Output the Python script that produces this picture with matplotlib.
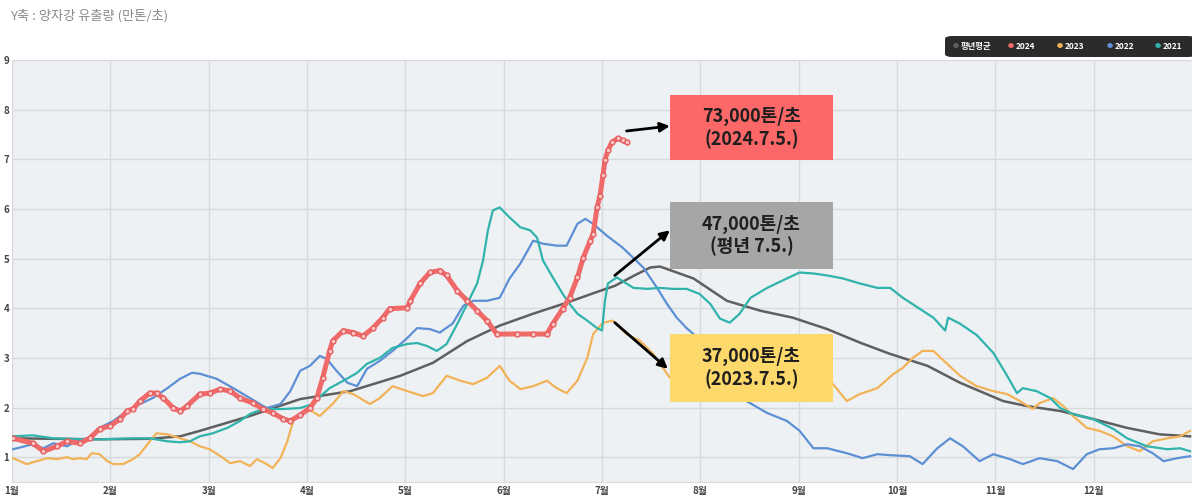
import numpy as np
import matplotlib
matplotlib.use("Agg")
import matplotlib.pyplot as plt
from matplotlib.patches import Rectangle, FancyBboxPatch

plt.rcParams['font.family'] = ['Noto Sans CJK KR', 'DejaVu Sans']

# x positions are in months since 1 Jan (0 = 1월 1일, 12 = year end)
month_labels = ["1월", "2월", "3월", "4월", "5월", "6월", "7월", "8월", "9월", "10월", "11월", "12월"]

avg_x = [0.00, 0.89, 1.40, 1.71, 1.91, 2.42, 2.93, 3.44, 3.95, 4.28, 4.63, 4.96, 5.30, 5.64, 5.98, 6.13,
         6.32, 6.49, 6.59, 6.93, 7.27, 7.61, 7.94, 8.29, 8.62, 8.93, 9.31, 9.64, 10.08, 10.32, 10.66, 10.99,
         11.34, 11.67, 11.98]
avg_y = [1.38, 1.36, 1.37, 1.42, 1.53, 1.83, 2.17, 2.33, 2.64, 2.90, 3.34, 3.65, 3.89, 4.11, 4.35, 4.45,
         4.65, 4.82, 4.84, 4.60, 4.15, 3.95, 3.81, 3.58, 3.31, 3.08, 2.84, 2.50, 2.13, 2.03, 1.93, 1.77,
         1.59, 1.46, 1.42]

y2024_x = [0.01, 0.21, 0.32, 0.46, 0.56, 0.69, 0.79, 0.89, 1.00, 1.10, 1.17, 1.23, 1.30, 1.40, 1.47, 1.54,
           1.64, 1.71, 1.78, 1.91, 2.01, 2.12, 2.22, 2.32, 2.45, 2.55, 2.65, 2.76, 2.83, 2.93, 3.03, 3.10,
           3.16, 3.23, 3.26, 3.37, 3.47, 3.57, 3.67, 3.77, 3.84, 4.02, 4.05, 4.15, 4.25, 4.35, 4.42, 4.53,
           4.63, 4.73, 4.83, 4.93, 5.14, 5.30, 5.44, 5.50, 5.60, 5.67, 5.75, 5.81, 5.88, 5.91, 5.95, 5.98,
           6.01, 6.03, 6.06, 6.10, 6.16, 6.21, 6.25]
y2024_y = [1.38, 1.28, 1.12, 1.22, 1.32, 1.28, 1.38, 1.57, 1.63, 1.77, 1.93, 1.97, 2.13, 2.29, 2.29, 2.19,
           1.99, 1.93, 2.03, 2.27, 2.29, 2.37, 2.33, 2.19, 2.09, 1.97, 1.89, 1.77, 1.73, 1.85, 1.99, 2.19,
           2.60, 3.14, 3.34, 3.55, 3.51, 3.44, 3.60, 3.81, 3.99, 4.01, 4.15, 4.50, 4.72, 4.76, 4.66, 4.35,
           4.15, 3.95, 3.75, 3.48, 3.48, 3.48, 3.48, 3.69, 3.99, 4.21, 4.62, 5.02, 5.36, 5.50, 6.03, 6.27,
           6.68, 6.98, 7.18, 7.34, 7.42, 7.38, 7.34]

y2023_x = [0.01, 0.15, 0.25, 0.36, 0.46, 0.56, 0.62, 0.69, 0.76, 0.81, 0.89, 0.97, 1.03, 1.13, 1.23, 1.30,
           1.40, 1.47, 1.58, 1.71, 1.81, 1.91, 2.01, 2.12, 2.22, 2.32, 2.42, 2.49, 2.59, 2.65, 2.73, 2.80,
           2.86, 2.93, 3.03, 3.13, 3.26, 3.37, 3.47, 3.64, 3.74, 3.87, 4.02, 4.18, 4.28, 4.42, 4.56, 4.69,
           4.83, 4.96, 5.06, 5.17, 5.30, 5.44, 5.54, 5.64, 5.75, 5.85, 5.91, 6.01, 6.11, 6.25, 6.39, 6.52,
           6.69, 6.99, 7.51, 8.01, 8.35, 8.49, 8.62, 8.80, 8.96, 9.06, 9.16, 9.26, 9.37, 9.51, 9.64, 9.81,
           9.98, 10.12, 10.25, 10.38, 10.45, 10.59, 10.69, 10.79, 10.93, 11.06, 11.20, 11.34, 11.47, 11.60,
           11.75, 11.88, 11.98]
y2023_y = [0.98, 0.86, 0.92, 0.98, 0.96, 1.00, 0.96, 0.98, 0.96, 1.08, 1.06, 0.92, 0.86, 0.86, 0.96, 1.06,
           1.32, 1.48, 1.46, 1.38, 1.32, 1.22, 1.16, 1.02, 0.88, 0.92, 0.82, 0.96, 0.86, 0.78, 0.98, 1.32,
           1.73, 1.87, 1.95, 1.83, 2.07, 2.33, 2.27, 2.07, 2.19, 2.43, 2.33, 2.23, 2.29, 2.64, 2.54, 2.47,
           2.60, 2.84, 2.54, 2.37, 2.43, 2.54, 2.39, 2.29, 2.54, 3.00, 3.48, 3.71, 3.75, 3.48, 3.34, 3.08,
           2.60, 2.50, 2.70, 2.60, 2.47, 2.13, 2.27, 2.39, 2.67, 2.80, 3.00, 3.14, 3.14, 2.88, 2.64, 2.43,
           2.33, 2.27, 2.13, 1.97, 2.09, 2.19, 2.03, 1.83, 1.59, 1.53, 1.42, 1.22, 1.12, 1.32,
           1.38, 1.42, 1.53]

y2022_x = [0.01, 0.21, 0.32, 0.42, 0.56, 0.69, 0.79, 0.89, 1.03, 1.17, 1.30, 1.43, 1.58, 1.71, 1.83, 1.91,
           2.08, 2.25, 2.42, 2.59, 2.73, 2.83, 2.93, 3.03, 3.13, 3.20, 3.30, 3.41, 3.51, 3.61, 3.74, 3.87,
           4.02, 4.12, 4.25, 4.35, 4.48, 4.59, 4.69, 4.83, 4.96, 5.06, 5.17, 5.30, 5.40, 5.54, 5.64, 5.75,
           5.83, 5.91, 6.05, 6.21, 6.42, 6.56, 6.66, 6.76, 6.86, 6.93, 7.20, 7.47, 7.68, 7.88, 8.01, 8.15,
           8.29, 8.49, 8.65, 8.80, 8.93, 9.13, 9.26, 9.41, 9.54, 9.67, 9.84, 9.98, 10.15, 10.28, 10.45,
           10.63, 10.79, 10.93, 11.06, 11.20, 11.34, 11.47, 11.60, 11.71, 11.85, 11.98]
y2022_y = [1.16, 1.26, 1.18, 1.28, 1.22, 1.36, 1.38, 1.59, 1.73, 1.93, 2.07, 2.19, 2.39, 2.58, 2.70, 2.68,
           2.58, 2.39, 2.19, 1.99, 2.07, 2.33, 2.74, 2.84, 3.04, 2.98, 2.74, 2.50, 2.43, 2.78, 2.94, 3.14,
           3.40, 3.60, 3.58, 3.51, 3.69, 4.05, 4.15, 4.15, 4.21, 4.60, 4.90, 5.36, 5.30, 5.26, 5.26, 5.70,
           5.80, 5.70, 5.46, 5.22, 4.82, 4.41, 4.09, 3.81, 3.60, 3.48, 2.90, 2.13, 1.89, 1.73, 1.53, 1.18,
           1.18, 1.08, 0.98, 1.06, 1.04, 1.02, 0.86, 1.18, 1.38, 1.22, 0.92, 1.06, 0.96, 0.86, 0.98,
           0.92, 0.76, 1.06, 1.16, 1.18, 1.26, 1.22, 1.08, 0.92, 0.98, 1.02]

y2021_x = [0.01, 0.21, 0.42, 0.72, 0.89, 1.23, 1.40, 1.58, 1.71, 1.81, 1.91, 2.04, 2.19, 2.32, 2.42, 2.55,
           2.76, 2.93, 3.06, 3.16, 3.23, 3.37, 3.51, 3.61, 3.74, 3.87, 4.02, 4.12, 4.22, 4.32, 4.42, 4.53,
           4.63, 4.73, 4.79, 4.84, 4.89, 4.96, 5.06, 5.17, 5.27, 5.34, 5.40, 5.50, 5.60, 5.67, 5.75, 5.85,
           5.95, 6.00, 6.03, 6.06, 6.15, 6.32, 6.46, 6.59, 6.72, 6.86, 6.99, 7.10, 7.20, 7.30, 7.40, 7.51,
           7.68, 7.88, 8.01, 8.15, 8.29, 8.45, 8.62, 8.80, 8.93, 9.06, 9.23, 9.37, 9.49, 9.52, 9.64, 9.81,
           9.98, 10.12, 10.22, 10.28, 10.42, 10.56, 10.66, 10.79, 10.99, 11.20, 11.34, 11.54, 11.75, 11.88, 11.98]
y2021_y = [1.42, 1.44, 1.38, 1.36, 1.36, 1.38, 1.38, 1.32, 1.30, 1.32, 1.42, 1.48, 1.59, 1.73, 1.87, 1.97,
           1.97, 1.99, 2.07, 2.27, 2.39, 2.54, 2.70, 2.88, 3.00, 3.20, 3.28, 3.30, 3.24, 3.14, 3.28, 3.69,
           4.09, 4.50, 4.96, 5.57, 5.97, 6.03, 5.83, 5.63, 5.57, 5.42, 4.96, 4.62, 4.29, 4.09, 3.89, 3.75,
           3.60, 3.55, 4.15, 4.50, 4.62, 4.41, 4.39, 4.41, 4.39, 4.39, 4.29, 4.09, 3.79, 3.71, 3.89, 4.21,
           4.41, 4.60, 4.72, 4.70, 4.66, 4.60, 4.50, 4.41, 4.41, 4.21, 3.99, 3.81, 3.55, 3.81, 3.69, 3.46,
           3.10, 2.64, 2.29, 2.39, 2.33, 2.19, 1.99, 1.87, 1.77, 1.57, 1.38, 1.22, 1.16, 1.18, 1.12]

legend_names = ["평년평균", "2024", "2023", "2022", "2021"]
c_avg, c24, c23, c22, c21 = "#5f5f5f", "#f06a6a", "#f2b257", "#5d8fd4", "#2fb3ac"

fig = plt.figure(figsize=(11.92, 4.99), dpi=100)
ax = fig.add_axes([12 / 1192, 17 / 499, 1180 / 1192, 422 / 499])
ax.set_facecolor("#eef1f4")

ax.plot(avg_x, avg_y, color=c_avg, lw=1.8, zorder=3)
ax.plot(y2023_x, y2023_y, color=c23, lw=1.6, zorder=3)
ax.plot(y2022_x, y2022_y, color=c22, lw=1.6, zorder=3)
ax.plot(y2021_x, y2021_y, color=c21, lw=1.6, zorder=3)
ax.plot(y2024_x, y2024_y, color=c24, lw=3.6, marker="o", ms=3.6, mfc="#f8c0c0",
        mec="#e35858", mew=0.9, zorder=4)

ax.set_xlim(0, 12)
ax.set_ylim(0.5, 9)
ax.set_xticks(range(12))
ax.set_xticklabels(month_labels)
ax.set_yticks(range(1, 10))
ax.tick_params(axis="both", length=0, labelsize=7, colors="#444444")
ax.tick_params(axis="y", pad=2)
ax.tick_params(axis="x", pad=3)
for lab in ax.get_xticklabels() + ax.get_yticklabels():
    lab.set_fontweight("bold")
ax.grid(True, color="#d6dade", lw=1)
ax.set_axisbelow(True)
for s in ["top", "right", "left"]:
    ax.spines[s].set_visible(False)
ax.spines["bottom"].set_color("#dadde0")

# annotation boxes
boxes = [
    (6.69, 6.98, 8.29, "#fc6767", "73,000톤/초\n(2024.7.5.)", (6.25, 7.57), (6.69, 7.67)),
    (6.69, 4.80, 6.13, "#a6a6a6", "47,000톤/초\n(평년 7.5.)", (6.13, 4.66), (6.69, 5.57)),
    (6.69, 2.11, 3.48, "#fdd86a", "37,000톤/초\n(2023.7.5.)", (6.13, 3.71), (6.67, 2.78)),
]
for x0, y0, y1, col, txt, a0, a1 in boxes:
    ax.add_patch(Rectangle((x0, y0), 1.66, y1 - y0, facecolor=col, edgecolor="none", zorder=6))
    ax.text(x0 + 0.83, (y0 + y1) / 2, txt, ha="center", va="center", fontsize=13,
            fontweight="bold", color="#1e1e1e", linespacing=1.2, zorder=7)
    ax.annotate("", xy=a1, xytext=a0, zorder=7,
                arrowprops=dict(arrowstyle="-|>", color="black", lw=2, mutation_scale=14,
                                shrinkA=0, shrinkB=0))

# title
fig.text(10 / 1192, 1 - 16 / 499, "Y축 : 양자강 유출량 (만톤/초)", fontsize=9.5, color="#8a8a8a",
         va="center", ha="left")

# legend
fig.patches.append(FancyBboxPatch((945 / 1192, 1 - 57 / 499), 250 / 1192, 21 / 499,
                                  boxstyle="round,pad=0,rounding_size=0.006", transform=fig.transFigure,
                                  facecolor="#2b2b2b", edgecolor="none"))
leg_cols = [c_avg, c24, c23, c22, c21]
leg_x = [953, 1008, 1057, 1107, 1155]
for name, col, lx in zip(legend_names, leg_cols, leg_x):
    fig.text(lx / 1192, 1 - 46.5 / 499, "●", color=col, fontsize=4.5, ha="left", va="center")
    fig.text((lx + 8) / 1192, 1 - 46.5 / 499, name, color="white", fontsize=6, fontweight="bold",
             ha="left", va="center")

fig.savefig("out.png", dpi=100)
